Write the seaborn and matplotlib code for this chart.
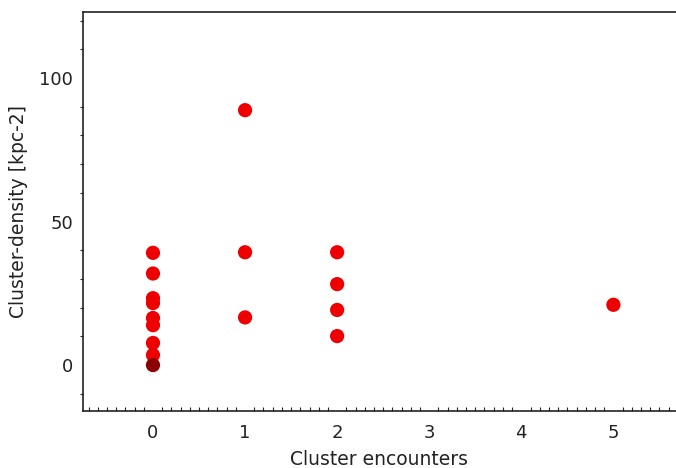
import pandas as pd
import numpy as np
import matplotlib
matplotlib.use('Agg')
import matplotlib.pyplot as plt
import seaborn as sns
from matplotlib.ticker import MultipleLocator

# Данные
encounters_0 = [0, 0, 0, 0, 0, 0, 0, 0, 0]
density_0 = [39.1, 31.9, 23.3, 21.6, 16.4, 13.9, 7.7, 3.5, 0.0]
group_0 = ['single'] * 8 + ['stacked']

encounters_1 = [1, 1, 1]
density_1 = [88.8, 39.3, 16.6]

encounters_2 = [2, 2, 2, 2]
density_2 = [39.3, 28.2, 19.2, 10.1]

encounters_5 = [5]
density_5 = [21.0]

df = pd.DataFrame({
    'encounters': encounters_0 + encounters_1 + encounters_2 + encounters_5,
    'density': density_0 + density_1 + density_2 + density_5,
    'group': group_0 + ['single'] * (len(encounters_1) + len(encounters_2) + len(encounters_5)),
})

sns.set_style('white')
plt.rcParams['font.family'] = ['DejaVu Sans']

fig = plt.figure(figsize=(6.76, 4.68), dpi=100)
ax = fig.add_axes([83 / 676, 1 - 411 / 468, 1 - 83 / 676, 399 / 468])

sns.scatterplot(data=df, x='encounters', y='density', hue='group',
                palette={'single': '#ee0000', 'stacked': '#8b0000'},
                s=105, linewidth=0, legend=False, ax=ax, zorder=3)

ax.set_xlim(-0.76, 5.68)
ax.set_ylim(-16, 123)
ax.set_xticks([0, 1, 2, 3, 4, 5])
ax.set_yticks([0, 50, 100])
ax.xaxis.set_minor_locator(MultipleLocator(0.1))
ax.yaxis.set_minor_locator(MultipleLocator(10))

for side in ['left', 'bottom', 'top']:
    ax.spines[side].set_color('#222222')
    ax.spines[side].set_linewidth(1.2)
ax.spines['right'].set_visible(False)

ax.tick_params(axis='x', which='major', direction='inout', length=6, width=1,
               color='#222222', labelsize=13, labelcolor='#222222', pad=6)
ax.tick_params(axis='x', which='minor', direction='in', length=3, width=0.8,
               color='#222222', bottom=True)
ax.tick_params(axis='y', which='major', direction='out', length=4, width=1,
               color='#222222', labelsize=13, labelcolor='#222222', pad=3)
ax.tick_params(axis='y', which='minor', direction='out', length=2, width=0.8,
               color='#222222', left=True)

ax.set_xlabel('Cluster encounters', fontsize=13.5, color='#222222', labelpad=6)
ax.set_ylabel('Cluster-density [kpc-2]', fontsize=13.5, color='#222222', labelpad=8)

fig.savefig('out.png', dpi=100)
